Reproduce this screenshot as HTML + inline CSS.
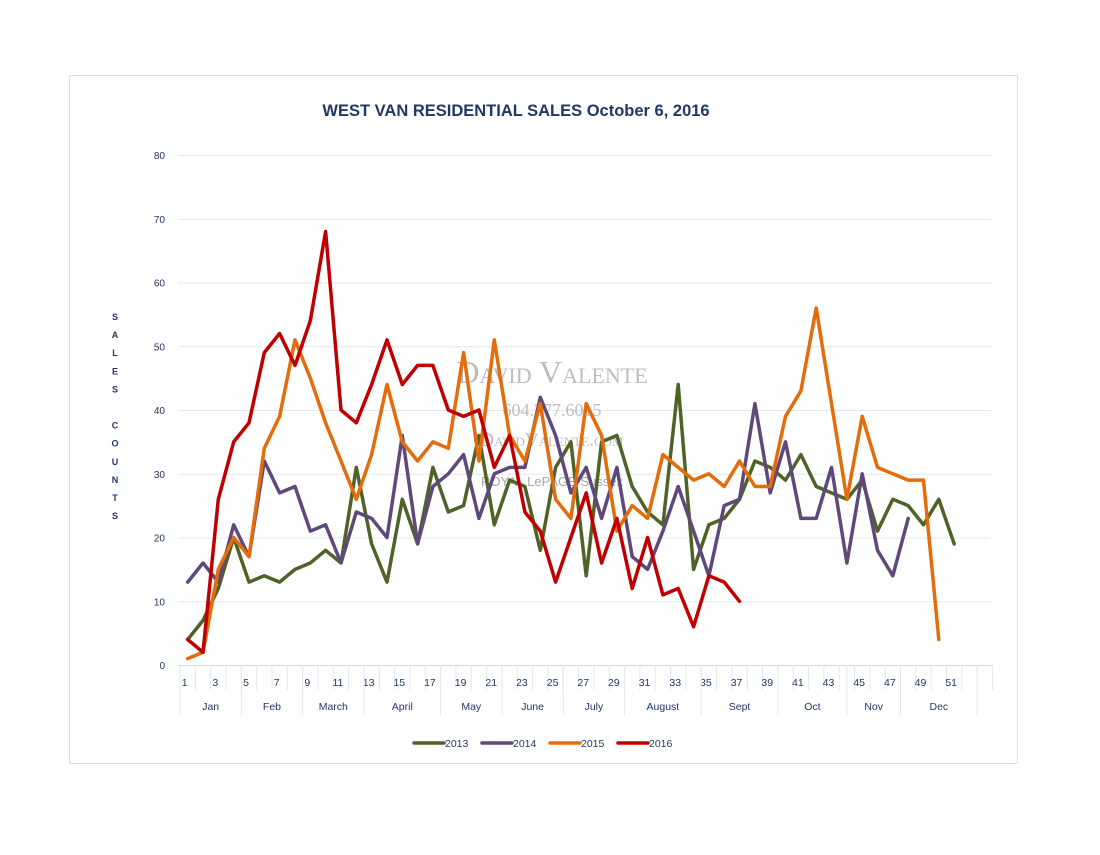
<!DOCTYPE html>
<html><head><meta charset="utf-8">
<style>
body{margin:0;background:#fff;width:1100px;height:850px;overflow:hidden;font-family:"Liberation Sans",sans-serif;}
svg text{font-family:"Liberation Sans",sans-serif;}
svg text.serif{font-family:"Liberation Serif",serif;font-variant:small-caps;}
</style></head>
<body>
<svg id="chart" width="1100" height="850">
<rect x="69.5" y="75.5" width="948" height="688" fill="#fff" stroke="#d9e1ec"/>
<text x="516" y="116" text-anchor="middle" font-size="16.5" font-weight="bold" fill="#1f3864">WEST VAN RESIDENTIAL SALES October 6, 2016</text>
<g id="grid"></g>
<g id="axis"></g>
<g id="watermark" fill="#bdbdbd" text-anchor="middle">
<text class="serif" x="552" y="383" font-size="32">David Valente</text>
<text class="serif" x="552" y="416" font-size="18">604.377.6015</text>
<text class="serif" x="552" y="446" font-size="19">DavidValente.com</text>
<text x="552" y="486" font-size="13" fill="#a8a8a8">ROYAL LePAGE Sussex</text>
</g>
<g id="series"></g>
<g id="ytitle"></g>
<g id="legend"></g>
</svg>
<script>
const weeks = Array.from({length:53},(_,i)=>i+1);
const tickLabels = [1,3,5,7,9,11,13,15,17,19,21,23,25,27,29,31,33,35,37,39,41,43,45,47,49,51];
const yTicks = [0,10,20,30,40,50,60,70,80];
const months = ["Jan","Feb","March","April","May","June","July","August","Sept","Oct","Nov","Dec"];
const monthBounds = [0,4,8,12,17,21,25,29,34,39,43.5,47,52];
const s2013 = [4,7,12,20,13,14,13,15,16,18,16,31,19,13,26,19,31,24,25,36,22,29,28,18,31,35,14,35,36,28,24,22,44,15,22,23,26,32,31,29,33,28,27,26,29,21,26,25,22,26,19];
const s2014 = [13,16,13,22,17,32,27,28,21,22,16,24,23,20,36,19,28,30,33,23,30,31,31,42,36,27,31,23,31,17,15,21,28,21,14,25,26,41,27,35,23,23,31,16,30,18,14,23];
const s2015 = [1,2,15,20,17,34,39,51,45,38,32,26,33,44,35,32,35,34,49,32,51,36,32,41,26,23,41,36,21,25,23,33,31,29,30,28,32,28,28,39,43,56,41,26,39,31,30,29,29,4];
const s2016 = [4,2,26,35,38,49,52,47,54,68,40,38,44,51,44,47,47,40,39,40,31,36,24,21,13,20,27,16,23,12,20,11,12,6,14,13,10];
const seriesNames = ["2013","2014","2015","2016"];
const seriesColors = ["#4f6228","#60497a","#e46c0a","#c00000"];
const allSeries = [s2013,s2014,s2015,s2016];

const NS="http://www.w3.org/2000/svg";
const X0=180, CW=15.33, Y0=665, YS=510/80;
const xCat = c => X0 + c*CW;
const xWeek = w => X0 + (w-0.5)*CW;
const yVal = v => Y0 - v*YS;
function mk(tag,attrs,parent){const e=document.createElementNS(NS,tag);for(const k in attrs)e.setAttribute(k,attrs[k]);parent.appendChild(e);return e;}
const grid=document.getElementById('grid'), axis=document.getElementById('axis');
yTicks.forEach(v=>{
  const l=mk('line',{x1:178,x2:991,y1:yVal(v)+0.5,y2:yVal(v)+0.5,stroke:v===0?'#d0d7e2':'#e3e8ef','stroke-width':1},grid);
  
  
  const t=mk('text',{x:165,y:yVal(v)+4,'text-anchor':'end','font-size':10,fill:'#1f3864'},axis);
  t.textContent=v;
  
  
});
weeks.forEach(w=>{
  const l=mk('line',{x1:xCat(w),x2:xCat(w),y1:665,y2:690,stroke:'#e3e8ef'},axis);
  
  
});
mk('line',{x1:X0,x2:X0,y1:665,y2:715,stroke:'#e3e8ef'},axis);
tickLabels.forEach(w=>{
  const t=mk('text',{x:xWeek(w)-3,y:686,'text-anchor':'middle','font-size':10.5,fill:'#1f3864'},axis);
  t.textContent=w;
  
  
});
months.forEach((m,i)=>{
  const a=monthBounds[i], b=monthBounds[i+1];
  const l=mk('line',{x1:xCat(b),x2:xCat(b),y1:665,y2:715,stroke:'#e3e8ef'},axis);
  
  
  const t=mk('text',{x:xCat((a+b)/2),y:710,'text-anchor':'middle','font-size':10.5,fill:'#1f3864'},axis);
  t.textContent=m;
  
  
});
const sg=document.getElementById('series');
allSeries.forEach((s,i)=>{
  const pts=s.map((v,j)=>xWeek(j+1).toFixed(1)+','+yVal(v).toFixed(1)).join(' ');
  const p=mk('polyline',{points:pts,fill:'none',stroke:seriesColors[i],'stroke-width':3.5,'stroke-linejoin':'round','stroke-linecap':'round'},sg);
  
  
});
const yt=document.getElementById('ytitle');
"SALES COUNTS".split('').forEach((ch,i)=>{
  if(ch===' ')return;
  const t=mk('text',{x:115,y:320+i*18.1,'text-anchor':'middle','font-size':9,'font-weight':'bold',fill:'#1f3864'},yt);
  t.textContent=ch;
});
const lg=document.getElementById('legend');
const lx=[414,482,550,618];
seriesNames.forEach((n,i)=>{
  const g=mk('g',{},lg);
  
  
  mk('line',{x1:lx[i],x2:lx[i]+30,y1:743,y2:743,stroke:seriesColors[i],'stroke-width':3.5,'stroke-linecap':'round'},g);
  const t=mk('text',{x:lx[i]+31,y:747,'font-size':10.5,fill:'#1f3864'},g);
  t.textContent=n;
});
</script>
</body></html>
